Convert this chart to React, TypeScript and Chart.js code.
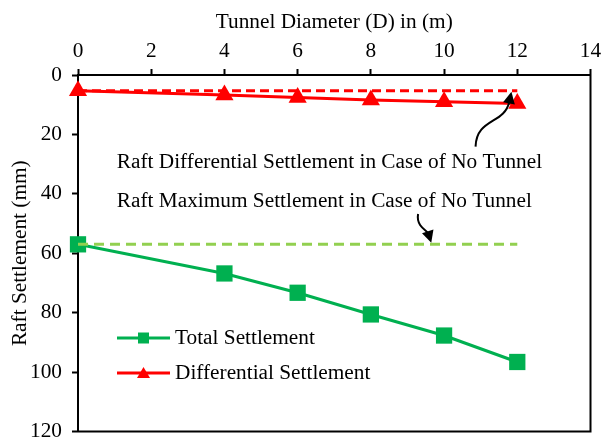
import React, { useEffect, useRef } from "react";
import { Chart, registerables } from "chart.js";

Chart.register(...registerables);

// Tunnel diameter D (m) and the raft settlements (mm) measured for each case
const diameters = [0, 4, 6, 8, 10, 12];
const totalSettlement = [57.0, 66.8, 73.3, 80.6, 87.7, 96.6];
const differentialSettlement = [5.3, 6.7, 7.6, 8.4, 9.0, 9.6];

// Reference levels for the raft without any tunnel
const noTunnelMaximum = 57.0;
const noTunnelDifferential = 5.3;
const referenceSpan = [0, 12];

// Axis ranges
const xRange = [0, 14];
const xStep = 2;
const yRange = [0, 120];
const yStep = 20;

const xTitle = "Tunnel Diameter (D) in (m)";
const yTitle = "Raft Settlement (mm)";
const seriesNames = ["Total Settlement", "Differential Settlement"];
const noteTexts = [
  "Raft Differential Settlement in Case of No Tunnel",
  "Raft Maximum Settlement in Case of No Tunnel",
];

const FONT = "'Liberation Serif', 'Times New Roman', serif";
const FONT_SIZE = 21.3;
const GREEN = "#00B050";
const RED = "#FF0000";
const LIGHT_GREEN = "#92D050";

// Note text anchors (data units: x in m, y at text baseline in mm)
const noteAnchors = [
  { x: 1.06, y: 31.2 },
  { x: 1.06, y: 44.6 },
];

// Curved callout arrows, cubic Bezier control points in data units
const arrowPaths = [
  [
    [10.86, 24.1],
    [10.89, 14.4],
    [11.65, 16.7],
    [11.84, 5.6],
  ],
  [
    [9.29, 46.8],
    [9.23, 51.1],
    [9.55, 52.5],
    [9.65, 56.5],
  ],
];

const framePlugin = {
  id: "plotFrame",
  beforeDatasetsDraw(chart: any) {
    const { ctx, chartArea: a } = chart;
    ctx.save();
    ctx.strokeStyle = "#000";
    ctx.lineWidth = 2;
    ctx.strokeRect(a.left, a.top, a.right - a.left, a.bottom - a.top);
    ctx.restore();
  },
};

function drawMarker(ctx: CanvasRenderingContext2D, kind: string, cx: number, cy: number, color: string) {
  ctx.fillStyle = color;
  ctx.beginPath();
  if (kind === "rect") {
    ctx.rect(cx - 5.5, cy - 5.5, 11, 11);
  } else {
    ctx.moveTo(cx, cy - 6);
    ctx.lineTo(cx + 6.5, cy + 5);
    ctx.lineTo(cx - 6.5, cy + 5);
    ctx.closePath();
  }
  ctx.fill();
}

const overlayPlugin = {
  id: "notesAndLegend",
  afterDraw(chart: any) {
    const { ctx, chartArea: a } = chart;
    const xs = chart.scales.x;
    const ys = chart.scales.y;
    const px = (v: number) => xs.getPixelForValue(v);
    const py = (v: number) => ys.getPixelForValue(v);
    ctx.save();

    // Notes
    ctx.font = `${FONT_SIZE}px ${FONT}`;
    ctx.fillStyle = "#000";
    ctx.textAlign = "left";
    ctx.textBaseline = "alphabetic";
    noteTexts.forEach((t, i) => {
      ctx.fillText(t, px(noteAnchors[i].x), py(noteAnchors[i].y));
    });

    // Arrows
    ctx.strokeStyle = "#000";
    ctx.fillStyle = "#000";
    ctx.lineWidth = 2;
    arrowPaths.forEach((p) => {
      const pts = p.map(([vx, vy]) => [px(vx), py(vy)]);
      const [p0, p1, p2, p3] = pts;
      const ang = Math.atan2(p3[1] - p2[1], p3[0] - p2[0]);
      const len = 12;
      const half = 6;
      const bx = p3[0] - Math.cos(ang) * len;
      const by = p3[1] - Math.sin(ang) * len;
      ctx.beginPath();
      ctx.moveTo(p0[0], p0[1]);
      ctx.bezierCurveTo(p1[0], p1[1], p2[0], p2[1], bx + Math.cos(ang) * 2, by + Math.sin(ang) * 2);
      ctx.stroke();
      ctx.beginPath();
      ctx.moveTo(p3[0], p3[1]);
      ctx.lineTo(bx - Math.sin(ang) * half, by + Math.cos(ang) * half);
      ctx.lineTo(bx + Math.sin(ang) * half, by - Math.cos(ang) * half);
      ctx.closePath();
      ctx.fill();
    });

    // Legend inside the plot, lower left
    const lx0 = a.left + 39;
    const lx1 = a.left + 92;
    const rows = [
      { y: a.top + 263, color: GREEN, kind: "rect", label: seriesNames[0] },
      { y: a.top + 298, color: RED, kind: "triangle", label: seriesNames[1] },
    ];
    ctx.textBaseline = "middle";
    rows.forEach((r) => {
      ctx.strokeStyle = r.color;
      ctx.lineWidth = 3;
      ctx.beginPath();
      ctx.moveTo(lx0, r.y);
      ctx.lineTo(lx1, r.y);
      ctx.stroke();
      drawMarker(ctx, r.kind, (lx0 + lx1) / 2, r.y, r.color);
      ctx.fillStyle = "#000";
      ctx.fillText(r.label, lx1 + 5, r.y);
    });

    ctx.restore();
  },
};

export default function App() {
  const canvasRef = useRef<HTMLCanvasElement | null>(null);

  useEffect(() => {
    const canvas = canvasRef.current;
    if (!canvas) return;
    const fontBase = { family: FONT, size: FONT_SIZE };

    const chart = new Chart(canvas, {
      type: "line",
      data: {
        datasets: [
          {
            label: "No tunnel differential",
            data: referenceSpan.map((d) => ({ x: d, y: noTunnelDifferential })),
            borderColor: RED,
            borderWidth: 3,
            borderDash: [9, 5],
            pointRadius: 0,
            clip: false,
            order: 1,
          },
          {
            label: "No tunnel maximum",
            data: referenceSpan.map((d) => ({ x: d, y: noTunnelMaximum })),
            borderColor: LIGHT_GREEN,
            borderWidth: 3,
            borderDash: [10, 6],
            pointRadius: 0,
            clip: false,
            order: 1,
          },
          {
            label: seriesNames[0],
            data: diameters.map((d, i) => ({ x: d, y: totalSettlement[i] })),
            borderColor: GREEN,
            backgroundColor: GREEN,
            borderWidth: 3,
            pointStyle: "rect",
            pointRadius: 11.5,
            pointBorderWidth: 0,
            clip: false,
            order: 2,
          },
          {
            label: seriesNames[1],
            data: diameters.map((d, i) => ({ x: d, y: differentialSettlement[i] })),
            borderColor: RED,
            backgroundColor: RED,
            borderWidth: 3,
            pointStyle: "triangle",
            pointRadius: 10.5,
            pointBorderWidth: 0,
            clip: false,
            order: 2,
          },
        ],
      },
      options: {
        animation: false,
        responsive: false,
        devicePixelRatio: 1,
        layout: { padding: { left: 0, top: 0, right: 11, bottom: 9 } },
        plugins: {
          legend: { display: false },
          tooltip: { enabled: false },
        },
        scales: {
          x: {
            type: "linear",
            position: "top",
            min: xRange[0],
            max: xRange[1],
            ticks: {
              stepSize: xStep,
              color: "#000",
              font: fontBase,
              padding: 5,
              maxRotation: 0,
              autoSkip: false,
            },
            grid: {
              drawOnChartArea: false,
              drawTicks: true,
              tickLength: 6,
              tickWidth: 2,
              tickColor: "#000",
            },
            border: { display: true, color: "#000", width: 2 },
            title: {
              display: true,
              text: xTitle,
              color: "#000",
              font: fontBase,
              padding: { top: 10, bottom: 0 },
            },
            afterFit(scale: any) {
              scale.height = 75;
              scale.paddingLeft = 0;
              scale.paddingRight = 0;
            },
          },
          y: {
            type: "linear",
            reverse: true,
            min: yRange[0],
            max: yRange[1],
            ticks: {
              stepSize: yStep,
              color: "#000",
              font: fontBase,
              padding: 10,
            },
            grid: {
              drawOnChartArea: false,
              drawTicks: true,
              tickLength: 6,
              tickWidth: 2,
              tickColor: "#000",
            },
            border: { display: true, color: "#000", width: 2 },
            title: {
              display: true,
              text: yTitle,
              color: "#000",
              font: fontBase,
              padding: { top: 8, bottom: 0 },
            },
            afterFit(scale: any) {
              scale.width = 78;
              scale.paddingTop = 0;
              scale.paddingBottom = 0;
            },
          },
        },
      },
      plugins: [framePlugin, overlayPlugin],
    } as any);

    return () => chart.destroy();
  }, []);

  return (
    <div style={{ position: "fixed", left: 0, top: 0, width: 602, height: 443, background: "#fff" }}>
      <canvas ref={canvasRef} width={602} height={443} style={{ display: "block" }} />
    </div>
  );
}
